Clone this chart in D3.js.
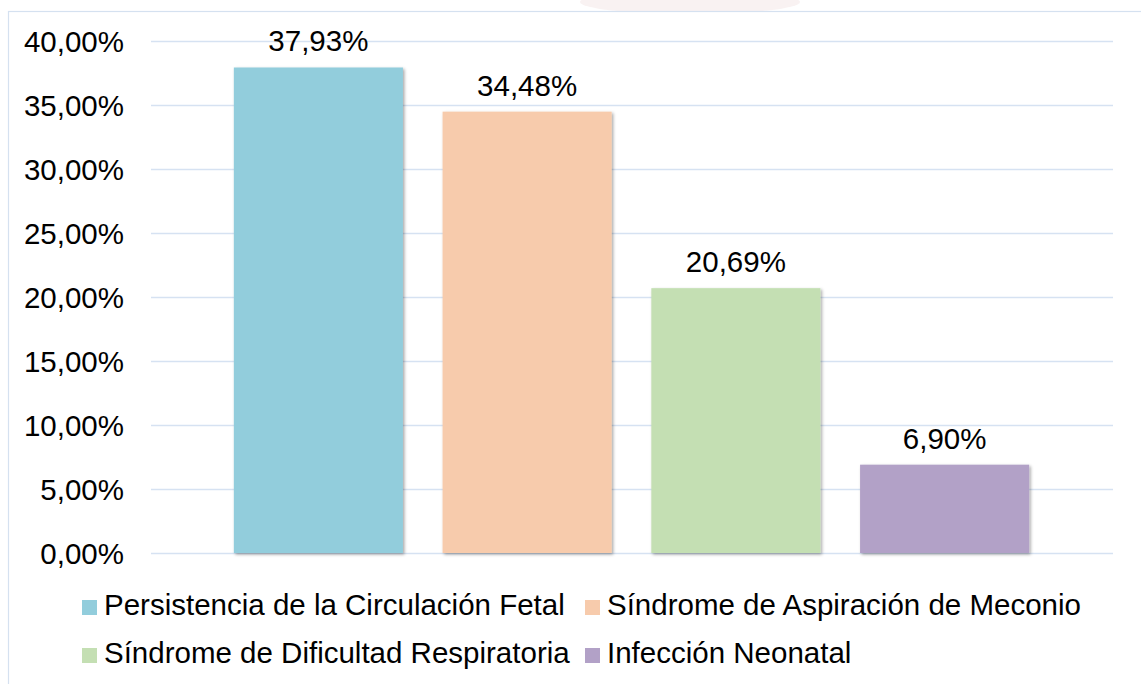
<!DOCTYPE html>
<html>
<head>
<meta charset="utf-8">
<script src="https://cdn.jsdelivr.net/npm/d3@7"></script>
<style>
  body { margin: 0; background: #fff; }
  text { font-family: "Liberation Sans", Arial, sans-serif; fill: #000; }
</style>
</head>
<body>
<script>
// data
var categories = ['Persistencia de la Circulación Fetal', 'Síndrome de Aspiración de Meconio',
                  'Síndrome de Dificultad Respiratoria', 'Infección Neonatal'];
var values = [37.93, 34.48, 20.69, 6.90];
var colors = ['#92CDDC', '#F7CBAC', '#C4DFB3', '#B2A1C7'];
var yTicks = [0, 5, 10, 15, 20, 25, 30, 35, 40];

var W = 1141, H = 684;
var fontSize = 29.5;

var svg = d3.select('body').append('svg')
    .attr('width', W)
    .attr('height', H);

// soft shadow under the bars
var defs = svg.append('defs');
var f = defs.append('filter').attr('id', 'shadow')
    .attr('x', '-10%').attr('y', '-10%').attr('width', '130%').attr('height', '130%');
f.append('feDropShadow').attr('dx', 1.5).attr('dy', 1.5).attr('stdDeviation', 1.5)
    .attr('flood-color', '#000').attr('flood-opacity', 0.35);

// faint watermark showing above the chart frame
svg.append('ellipse')
    .attr('cx', 690).attr('cy', 2).attr('rx', 110).attr('ry', 12)
    .attr('fill', '#f7eced').attr('opacity', 0.7);

// chart frame (only left and top are visible in the crop)
svg.append('rect')
    .attr('x', 8.5).attr('y', 11.5)
    .attr('width', W + 20).attr('height', H + 20)
    .attr('fill', '#fff')
    .attr('stroke', '#D5E1F0')
    .attr('stroke-width', 1.2);

var gridLeft = 151, gridRight = 1113;

var x = d3.scaleBand()
    .domain(categories)
    .range([214, 1049])
    .paddingInner(0.19)
    .paddingOuter(0.095);

var y = d3.scaleLinear()
    .domain([0, 40])
    .range([553, 41]);

// horizontal gridlines
svg.append('g')
    .selectAll('line')
    .data(yTicks)
    .enter().append('line')
    .attr('x1', gridLeft)
    .attr('x2', gridRight)
    .attr('y1', function(d) { return Math.round(y(d)) + 0.5; })
    .attr('y2', function(d) { return Math.round(y(d)) + 0.5; })
    .attr('stroke', '#D6E2F2')
    .attr('stroke-width', 1.6);

// y axis labels
var yAxis = d3.axisLeft(y)
    .tickValues(yTicks)
    .tickSize(0)
    .tickPadding(0)
    .tickFormat(function(d) { return d3.format('.2f')(d).replace('.', ',') + '%'; });

var ya = svg.append('g')
    .attr('transform', 'translate(124,0)')
    .call(yAxis);
ya.select('.domain').remove();
ya.selectAll('text')
    .attr('font-family', '"Liberation Sans", Arial, sans-serif')
    .attr('font-size', fontSize)
    .attr('fill', '#000')
    .attr('dy', '0.34em');

// bars
svg.append('g')
    .selectAll('rect')
    .data(values)
    .enter().append('rect')
    .attr('x', function(d, i) { return x(categories[i]); })
    .attr('y', function(d) { return y(d); })
    .attr('width', x.bandwidth())
    .attr('height', function(d) { return y(0) - y(d); })
    .attr('fill', function(d, i) { return colors[i]; })
    .attr('filter', 'url(#shadow)');

// value labels
svg.append('g')
    .selectAll('text')
    .data(values)
    .enter().append('text')
    .attr('x', function(d, i) { return x(categories[i]) + x.bandwidth() / 2; })
    .attr('y', function(d) { return y(d) - 16; })
    .attr('text-anchor', 'middle')
    .attr('font-size', fontSize)
    .text(function(d) { return d3.format('.2f')(d).replace('.', ',') + '%'; });

// legend, two columns by two rows
var legendCols = [82, 585];
var legendRows = [615, 663];

var leg = svg.append('g')
    .selectAll('g')
    .data(categories)
    .enter().append('g')
    .attr('transform', function(d, i) {
        return 'translate(' + legendCols[i % 2] + ',' + legendRows[Math.floor(i / 2)] + ')';
    });

leg.append('rect')
    .attr('x', 0)
    .attr('y', -15)
    .attr('width', 15)
    .attr('height', 15)
    .attr('fill', function(d, i) { return colors[i]; });

leg.append('text')
    .attr('x', 22)
    .attr('y', 0)
    .attr('font-size', fontSize)
    .text(function(d) { return d; });
</script>
</body>
</html>
